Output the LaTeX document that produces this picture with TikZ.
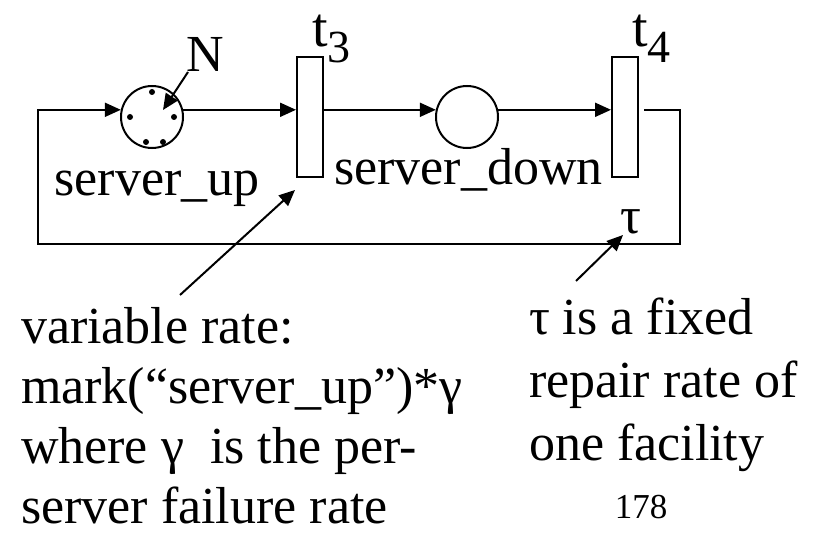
\documentclass[tikz,border=0pt]{standalone}
\usepackage{fontspec}
\setmainfont{Liberation Serif}
\newfontfamily\timesfont{Liberation Serif}
\usetikzlibrary{arrows.meta, calc}
\newcommand{\tsub}[1]{{\fontsize{56}{56}\selectfont t}\raisebox{-16pt}{\fontsize{46}{46}\selectfont #1}}

\begin{document}
\begin{tikzpicture}[x=1pt, y=-1pt, line width=2pt, >={Triangle[length=16pt,width=14pt]},
  every node/.style={font=\timesfont\fontsize{52}{63}\selectfont, inner sep=0pt},
  plc/.style={draw, circle, minimum size=62pt},
  trn/.style={draw, rectangle, minimum width=26pt, minimum height=120pt}]
\useasboundingbox (0,0) rectangle (829,540);

% places and transitions of the net
\node[plc] (up) at (152,117) {};
\node[plc] (down) at (467,117) {};
\node[trn] (t3) at (310,117) {};
\node[trn] (t4) at (625,117) {};
\foreach \dx/\dy in {0/-25, -22/0, 22/0, -6/25, 11/25}
  \fill ($(up.center)+(\dx,\dy)$) circle (3pt);

% arcs: up -> t3 -> down -> t4, then back round to up
\draw[->] (up.13) -- (up.13 -| t3.west);
\draw[->] (up.13 -| t3.east) -- (down.167);
\draw[->] (down.13) -- (down.13 -| t4.west);
\coordinate (loopr) at (680,244);
\coordinate (loopl) at (38,244);
\draw[->] ($(down.13 -| t4.east)+(5,0)$) -- (down.13 -| loopr) -- (loopr) -- (loopl) -- (loopl |- up.167) -- (up.167);

% labels on the net
\node[anchor=base west] (nlab) at (185,72) {N};
\coordinate (ntip) at (163,110);
\draw[->] ($(nlab.base west)+(3,0)$) -- (ntip);
\node[anchor=base west] (t3lab) at (311,47) {\tsub{3}};
\node[anchor=base west] (t4lab) at (631,47) {\tsub{4}};
\node[anchor=base] (uplab) at (157,195) {server\_up};
\node[anchor=base west] (downlab) at (333,185) {server\_down};
\node[anchor=base west] (taulab) at (619,233) {τ};

% notes on the two rates
\node[anchor=north west, align=left, font=\timesfont\fontsize{52}{60}\selectfont] (ratetxt) at (20,306) {variable rate:\\mark(“server\_up”)*γ\\where γ\ \ is the per-\\server failure rate};
\coordinate (ratetail) at (180,295);
\coordinate (ratetip) at (295,190);
\draw[->] (ratetail) -- (ratetip);
\node[anchor=north west, align=left] (tautxt) at (528,297) {τ is a fixed\\repair rate of\\one facility};
\coordinate (tautail) at (576,281);
\coordinate (tautip) at (623,235);
\draw[->] (tautail) -- (tautip);
\node[anchor=base, font=\timesfont\fontsize{35}{35}\selectfont] (pgno) at (641,518) {178};

\end{tikzpicture}
\end{document}
